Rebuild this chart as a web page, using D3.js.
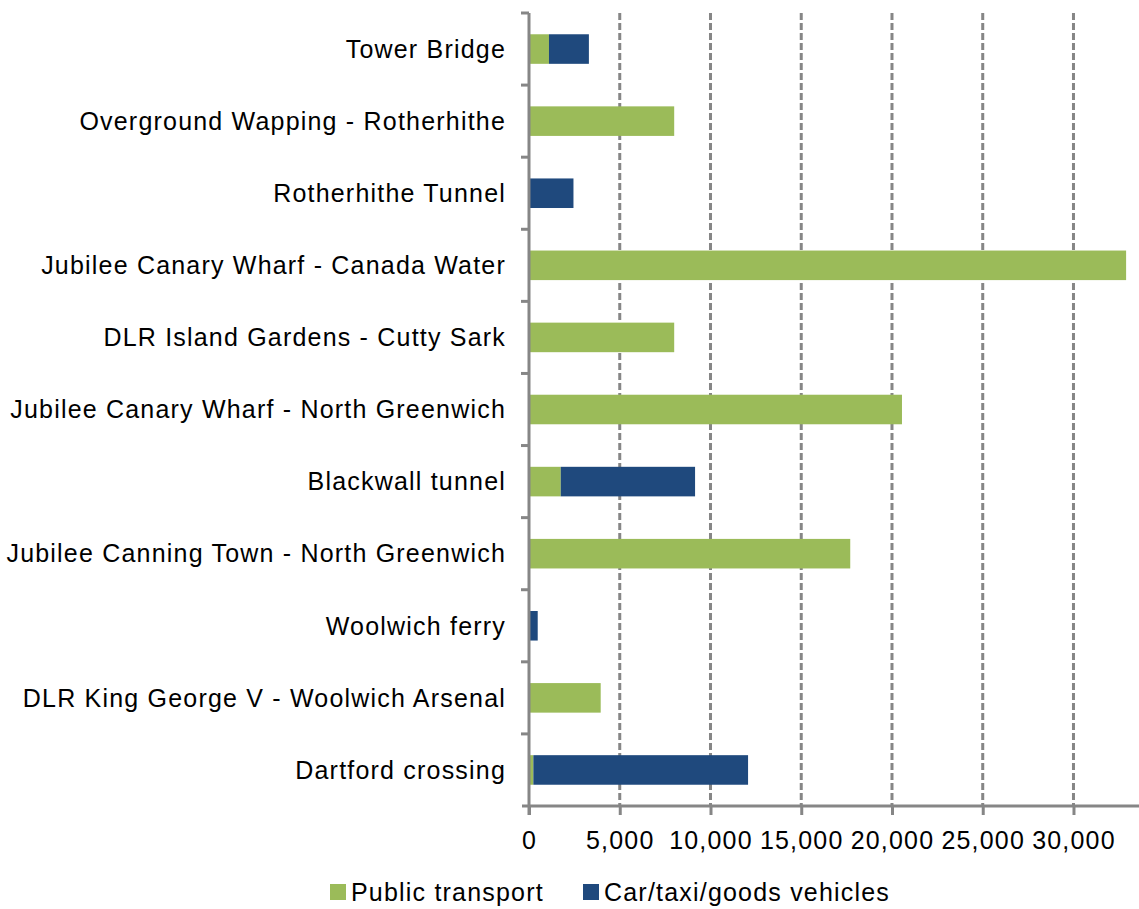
<!DOCTYPE html>
<html>
<head>
<meta charset="utf-8">
<script src="https://cdn.jsdelivr.net/npm/d3@7"></script>
<style>
   body { margin: 0; background: #fff; }
   text { font-family: "Liberation Sans", Arial, sans-serif; fill: #000; letter-spacing: 1.2px; }
</style>
</head>
<body>
<div id="chart"></div>
<script>

// CATEGORIES, TOP TO BOTTOM
var crossings = [
   'Tower Bridge',
   'Overground Wapping - Rotherhithe',
   'Rotherhithe Tunnel',
   'Jubilee Canary Wharf - Canada Water',
   'DLR Island Gardens - Cutty Sark',
   'Jubilee Canary Wharf - North Greenwich',
   'Blackwall tunnel',
   'Jubilee Canning Town - North Greenwich',
   'Woolwich ferry',
   'DLR King George V - Woolwich Arsenal',
   'Dartford crossing'
];

// SERIES VALUES
var publicTransport = [1100, 8000, 0, 32900, 8000, 20550, 1750, 17700, 0, 3950, 240];
var carTaxiGoods = [2200, 0, 2450, 0, 0, 0, 7400, 0, 480, 0, 11830];

// SERIES NAMES & TICKS
var seriesNames = ['Public transport', 'Car/taxi/goods vehicles'];
var xTicks = [0, 5000, 10000, 15000, 20000, 25000, 30000];

// SETTINGS
var settings = {
   width: 1139,
   height: 909,
   margin: { top: 13, right: 2, bottom: 103, left: 529 },
   colors: ['#9BBB59', '#1F497D'],
   axis: '#868686',
   font: 25
};

// PLOT SIZE
var plotW = settings.width - settings.margin.left - settings.margin.right;
var plotH = settings.height - settings.margin.top - settings.margin.bottom;

// BUILD STACK ROWS
var rows = crossings.map((name, i) => {
   return { name: name, pt: publicTransport[i], car: carTaxiGoods[i] };
});
var stacked = d3.stack().keys(['pt', 'car'])(rows);

// X-SCALING
var xScale = d3.scaleLinear()
   .domain([0, 33500])
   .range([0, plotW]);

// Y-SCALING
var yScale = d3.scaleBand()
   .domain(crossings)
   .range([0, plotH])
   .paddingInner(0.59)
   .paddingOuter(0.295);

// CANVAS
var svg = d3.select('#chart').append('svg')
   .attr('width', settings.width)
   .attr('height', settings.height);

var canvas = svg.append('g')
   .attr('transform', 'translate(' + settings.margin.left + ',' + settings.margin.top + ')');

// DASHED GRIDLINES
canvas.selectAll('line.grid')
   .data(xTicks.slice(1))
      .enter().append('line')
         .attr('class', 'grid')
         .attr('x1', d => xScale(d))
         .attr('x2', d => xScale(d))
         .attr('y1', 0)
         .attr('y2', plotH)
         .attr('stroke', settings.axis)
         .attr('stroke-width', 3)
         .attr('stroke-dasharray', '7,3');

// BARS
stacked.forEach((series, s) => {
   canvas.selectAll('rect.s' + s)
      .data(series)
         .enter().append('rect')
            .attr('class', 's' + s)
            .attr('x', d => xScale(d[0]))
            .attr('y', (d, i) => yScale(crossings[i]))
            .attr('width', d => xScale(d[1]) - xScale(d[0]))
            .attr('height', yScale.bandwidth())
            .attr('fill', settings.colors[s]);
});

// X-AXIS
var xAxis = d3.axisBottom(xScale)
   .tickValues(xTicks)
   .tickSize(9)
   .tickPadding(16)
   .tickFormat(d3.format(','));

var gx = canvas.append('g')
   .attr('transform', 'translate(0,' + plotH + ')')
   .call(xAxis);
gx.select('.domain').remove();
gx.append('line')
   .attr('x1', -7).attr('x2', settings.width - settings.margin.left)
   .attr('stroke', settings.axis).attr('stroke-width', 3);
gx.selectAll('.tick line').attr('stroke', settings.axis).attr('stroke-width', 3);
gx.selectAll('.tick text')
   .style('font-size', settings.font + 'px')
   .style('font-family', '"Liberation Sans", Arial, sans-serif')
   .attr('fill', '#000');

// Y-AXIS
canvas.append('line')
   .attr('x1', 0).attr('x2', 0)
   .attr('y1', 0).attr('y2', plotH + 9)
   .attr('stroke', settings.axis).attr('stroke-width', 3);

// Y TICK MARKS AT BAND EDGES
var step = plotH / crossings.length;
canvas.selectAll('line.ytick')
   .data(d3.range(crossings.length))
      .enter().append('line')
         .attr('x1', -8).attr('x2', 0)
         .attr('y1', d => d * step)
         .attr('y2', d => d * step)
         .attr('stroke', settings.axis)
         .attr('stroke-width', 3);

// CATEGORY LABELS
canvas.selectAll('text.cat')
   .data(crossings)
      .enter().append('text')
         .attr('class', 'cat')
         .attr('x', -23)
         .attr('y', d => yScale(d) + yScale.bandwidth() / 2)
         .attr('dy', '0.35em')
         .attr('text-anchor', 'end')
         .style('font-size', settings.font + 'px')
         .text(d => d);

// LEGEND
var legendX = [330, 583];
var legend = svg.selectAll('g.legend')
   .data(seriesNames)
      .enter().append('g')
         .attr('class', 'legend')
         .attr('transform', (d, i) => 'translate(' + legendX[i] + ',' + 892 + ')');

legend.append('rect')
   .attr('x', 0).attr('y', -8)
   .attr('width', 16).attr('height', 16)
   .attr('fill', (d, i) => settings.colors[i]);

legend.append('text')
   .attr('x', 21)
   .attr('dy', '0.35em')
   .style('font-size', settings.font + 'px')
   .text(d => d);

</script>
</body>
</html>
